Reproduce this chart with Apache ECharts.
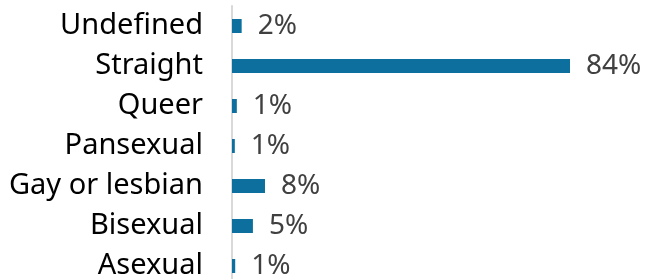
<!DOCTYPE html>
<html>
<head>
<meta charset="utf-8">
<script src="https://cdn.jsdelivr.net/npm/echarts@6/dist/echarts.min.js"></script>
<style>
  html, body { margin: 0; padding: 0; background: #fff; }
  #chart { width: 647px; height: 279px; }
</style>
</head>
<body>
<div id="chart"></div>
<script>
// categories listed bottom to top (echarts category axis goes upward)
const categories = ['Asexual', 'Bisexual', 'Gay or lesbian', 'Pansexual', 'Queer', 'Straight', 'Undefined'];
const shares = [0.8, 5.2, 8.2, 0.7, 1.2, 84, 2.4];
const shareLabels = ['1%', '5%', '8%', '1%', '1%', '84%', '2%'];

const chart = echarts.init(document.getElementById('chart'));

chart.setOption({
  animation: false,
  grid: {
    left: 232,
    top: 6,
    width: 338,
    height: 280,
    outerBoundsMode: 'none'
  },
  xAxis: {
    type: 'value',
    min: 0,
    max: 84,
    show: false
  },
  yAxis: {
    type: 'category',
    data: categories,
    axisLine: { show: true, lineStyle: { color: '#d9d9d9', width: 2 } },
    axisTick: { show: false },
    axisLabel: {
      color: '#000',
      fontFamily: 'Noto Sans',
      fontSize: 29,
      margin: 29
    }
  },
  series: [
    {
      type: 'bar',
      data: shares,
      barWidth: 14,
      itemStyle: { color: '#0c6f9d' },
      label: {
        show: true,
        position: 'right',
        distance: 16,
        color: '#404040',
        fontFamily: 'Noto Sans',
        fontSize: 28,
        formatter: (p) => shareLabels[p.dataIndex]
      }
    }
  ]
});
</script>
</body>
</html>
